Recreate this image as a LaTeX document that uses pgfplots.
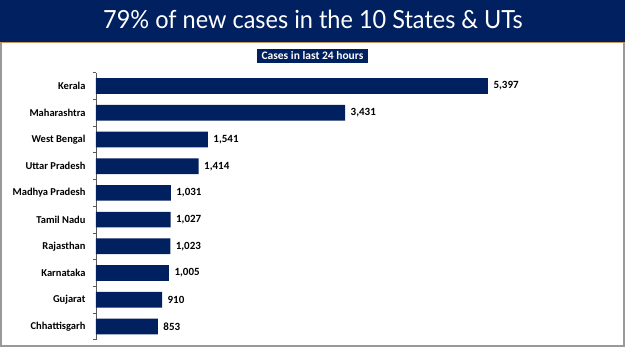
\documentclass[border=0pt]{standalone}
\usepackage{pgfplots}
\pgfplotsset{compat=1.18}
\usepackage{fontspec}
\setmainfont{Carlito}
\newfontfamily\titlefont{Lato}
\definecolor{navy}{RGB}{0,32,96}
\begin{document}
\begin{tikzpicture}[x=1pt,y=1pt]
\path[use as bounding box] (0,0) rectangle (625,351);
\fill[white] (0,0) rectangle (625,351);
\fill[navy] (0,309) rectangle (625,351);
\draw[color={rgb,255:red,200;green,150;blue,90}, line width=1pt] (0,308.5) -- (625,308.5);
\draw[gray!80, line width=1.2pt] (1,308) -- (1,5) -- (624,5) -- (624,308);
\node[text=white, font=\titlefont\fontsize{25}{28}\selectfont, anchor=base, xscale=0.94, inner sep=0pt] at (313,322) {79\% of new cases in the 10 States \& UTs};
\node[fill=navy, text=white, font=\bfseries\fontsize{11.5}{13}\selectfont, minimum width=111pt, minimum height=14pt, inner sep=0pt] at (312.5,295) {Cases in last 24 hours};
\begin{axis}[
  at={(96pt,11.14pt)}, anchor=south west,
  scale only axis, width=435.8pt, height=267.2pt,
  xmin=0, xmax=6000, ymin=-0.5, ymax=9.5,
  xbar, bar width=15.7pt,
  axis x line=none,
  axis y line*=left,
  y axis line style={gray!70!black, line width=0.8pt},
  ytick={0,...,9},
  yticklabels={Chhattisgarh,Gujarat,Karnataka,Rajasthan,Tamil Nadu,Madhya Pradesh,Uttar Pradesh,West Bengal,Maharashtra,Kerala},
  major tick length=0pt,
  minor ytick={-0.5,0.5,...,9.5},
  minor tick length=3pt, tick align=outside,
  tick style={gray!70!black, line width=0.8pt},
  yticklabel style={font=\bfseries\fontsize{10.5}{12}\selectfont, xshift=-7pt},
  nodes near coords,
  nodes near coords style={font=\bfseries\fontsize{11}{13}\selectfont, /pgf/number format/assume math mode=true, /pgf/number format/1000 sep={,}, anchor=west, text=black, xshift=2pt},
  clip=false,
]
\addplot[fill=navy, draw=none] coordinates {(853,0) (910,1) (1005,2) (1023,3) (1027,4) (1031,5) (1414,6) (1541,7) (3431,8) (5397,9)};
\end{axis}
\end{tikzpicture}
\end{document}
